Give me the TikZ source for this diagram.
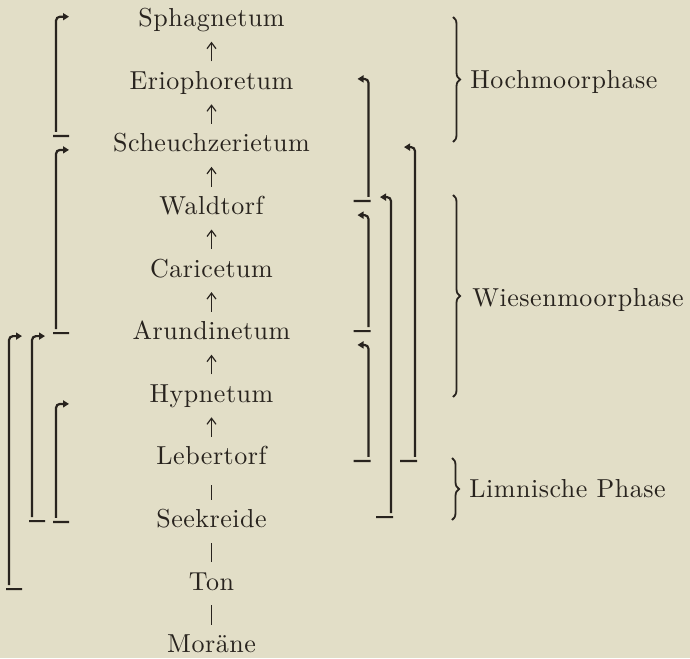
\documentclass[tikz,border=0pt]{standalone}
\usepackage{fontspec}
\setmainfont{lmroman10-regular.otf}[LetterSpace=2]
\usepackage{tikz}
\usetikzlibrary{arrows.meta,positioning,calc,decorations.pathreplacing}
\definecolor{paper}{RGB}{226,222,199}
\definecolor{ink}{RGB}{40,35,30}

\begin{document}
\begin{tikzpicture}[font=\fontsize{13}{15}\selectfont, node distance=9.8pt, color=ink]
  \tikzstyle{stage}=[inner xsep=2pt, inner ysep=5pt, outer sep=0pt, text height=9pt, text depth=2.5pt]
  \tikzstyle{up}=[line width=0.6pt, -{Straight Barb[length=3pt,width=4.5pt]}]
  \tikzstyle{link}=[line width=0.6pt]
  \tikzstyle{brk}=[line width=1.1pt, rounded corners=2pt, -{Triangle[length=3pt,width=3.5pt]}]
  \tikzstyle{brc}=[line width=0.9pt, decorate, decoration={brace, amplitude=3.5pt}]
  \tikzstyle{phase}=[anchor=base west, inner sep=0pt]
  \useasboundingbox (0,0) rectangle (345pt,-329pt);
  \fill[paper] (0,0) rectangle (345pt,-329pt);
  % succession, bottom to top
  \node[stage, anchor=base] (sph) at (105.75pt,-13.35pt) {Sphagnetum};
  \node[stage, below=of sph] (eri) {Eriophoretum};
  \node[stage, below=of eri] (sch) {Scheuchzerietum};
  \node[stage, below=of sch] (wal) {Waldtorf};
  \node[stage, below=of wal] (car) {Caricetum};
  \node[stage, below=of car] (aru) {Arundinetum};
  \node[stage, below=of aru] (hyp) {Hypnetum};
  \node[stage, below=of hyp] (leb) {Lebertorf};
  \node[stage, below=of leb] (see) {Seekreide};
  \node[stage, below=of see] (ton) {Ton};
  \node[stage, below=of ton] (mor) {Moräne};
  \draw[up] (eri) -- (sph);
  \draw[up] (sch) -- (eri);
  \draw[up] (wal) -- (sch);
  \draw[up] (car) -- (wal);
  \draw[up] (aru) -- (car);
  \draw[up] (hyp) -- (aru);
  \draw[up] (leb) -- (hyp);
  \draw[link, shorten >=2.5pt] (see) -- (leb);
  \draw[link] (ton) -- (see);
  \draw[link] (mor) -- (ton);
  % bracket columns
  \coordinate (lA) at (4.5pt,0);
  \coordinate (lB) at (16pt,0);
  \coordinate (lC) at (28pt,0);
  \coordinate (rA) at (184.25pt,0);
  \coordinate (rB) at (195.5pt,0);
  \coordinate (rC) at (207.5pt,0);
  % left brackets
  \draw[brk] ($(lC |- sch.base)+(-1.5pt,8pt)$) -- ++(8pt,0)
    ($(lC |- sch.base)+(0,10pt)$) |- ($(lC |- sph.base)+(6.5pt,5pt)$);
  \draw[brk] ($(lC |- aru.base)+(-1.5pt,3.3pt)$) -- ++(8pt,0)
    ($(lC |- aru.base)+(0,5.3pt)$) |- ($(lC |- sch.base)+(6.5pt,1pt)$);
  \draw[brk] ($(lA |- ton.base)+(-1.5pt,0.5pt)$) -- ++(8pt,0)
    ($(lA |- ton.base)+(0,2.5pt)$) |- ($(lA |- aru.base)+(6.5pt,1.8pt)$);
  \draw[brk] ($(lB |- see.base)+(-1.5pt,3.2pt)$) -- ++(8pt,0)
    ($(lB |- see.base)+(0,5.2pt)$) |- ($(lB |- aru.base)+(6.5pt,1.8pt)$);
  \draw[brk] ($(lC |- see.base)+(-1.5pt,2.8pt)$) -- ++(8pt,0)
    ($(lC |- see.base)+(0,4.8pt)$) |- ($(lC |- hyp.base)+(6.5pt,-0.8pt)$);
  % right brackets
  \draw[brk] ($(rA |- wal.base)+(1pt,6.8pt)$) -- ++(-8.5pt,0)
    ($(rA |- wal.base)+(0,8.8pt)$) |- ($(rA |- eri.base)+(-5.5pt,5.2pt)$);
  \draw[brk] ($(rC |- leb.base)+(1pt,2pt)$) -- ++(-8.5pt,0)
    ($(rC |- leb.base)+(0,4pt)$) |- ($(rC |- sch.base)+(-5.5pt,2.4pt)$);
  \draw[brk] ($(rB |- see.base)+(1pt,5.2pt)$) -- ++(-8.5pt,0)
    ($(rB |- see.base)+(0,7.2pt)$) |- ($(rB |- wal.base)+(-5.5pt,8.7pt)$);
  \draw[brk] ($(rA |- aru.base)+(1pt,4.3pt)$) -- ++(-8.5pt,0)
    ($(rA |- aru.base)+(0,6.3pt)$) |- ($(rA |- wal.base)+(-5.5pt,-0.3pt)$);
  \draw[brk] ($(rA |- leb.base)+(1pt,2pt)$) -- ++(-8.5pt,0)
    ($(rA |- leb.base)+(0,4pt)$) |- ($(rA |- aru.base)+(-5.5pt,-2.6pt)$);
  % phases
  \node[phase] (hoch) at (235pt,-44.5pt) {Hochmoorphase};
  \node[phase] (wies) at (236pt,-153pt) {Wiesenmoorphase};
  \node[phase] (limn) at (234.5pt,-248.5pt) {Limnische Phase};
  \draw[brc] ($(hoch.base west)+(-8.5pt,36pt)$) -- ($(hoch.base west)+(-8.5pt,-26.5pt)$);
  \draw[brc] ($(wies.base west)+(-9.5pt,55.5pt)$) -- ($(wies.base west)+(-9.5pt,-45.5pt)$);
  \draw[brc] ($(limn.base west)+(-8.5pt,19.5pt)$) -- ($(limn.base west)+(-8.5pt,-11.5pt)$);
\end{tikzpicture}
\end{document}
